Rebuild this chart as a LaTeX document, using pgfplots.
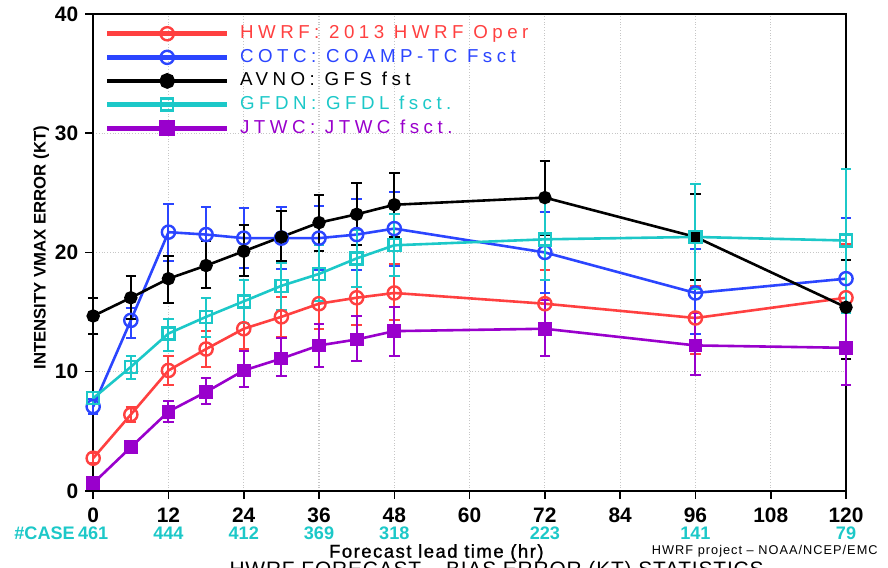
\documentclass[border=0pt]{standalone}
\usepackage{fontspec}
\setmainfont{Liberation Sans}
\newfontfamily\legfont[LetterSpace=24]{Liberation Sans}
\newfontfamily\titlefont[LetterSpace=4]{Liberation Sans}
\newfontfamily\smallfont[LetterSpace=8]{Liberation Sans}
\newfontfamily\labfont[LetterSpace=8,FakeBold=1.2]{Liberation Sans}
\usepackage{pgfplots}
\pgfplotsset{compat=1.18}
\usetikzlibrary{calc}
\definecolor{hred}{HTML}{FF4040}
\definecolor{hblue}{HTML}{2B45FF}
\definecolor{hcyan}{HTML}{1CC8C8}
\definecolor{hpurple}{HTML}{9900CC}

\begin{document}
\begin{tikzpicture}
\begin{axis}[
  scale only axis, width=376.5bp, height=238.5bp,
  xmin=0, xmax=120, ymin=0, ymax=40,
  xtick={0,12,...,120}, ytick={0,10,...,40},
  clip=false,
  axis line style={line width=1bp},
  tick pos=left, tick align=outside, major tick length=4bp,
  tick style={line width=0.8bp, black},
  grid=major, major grid style={densely dotted, gray!45, line width=0.6bp},
  /pgf/number format/assume math mode=true,
  tick label style={font=\fontsize{10.5}{12}\selectfont\bfseries},
  xticklabel style={yshift=-1bp},
  ylabel={INTENSITY VMAX ERROR (KT)},
  ylabel style={font=\fontsize{8.4}{10}\selectfont\bfseries,
    at={(axis description cs:-0.069,0.51)}, anchor=center},
  error bars/y dir=both, error bars/y explicit,
  error bars/error bar style={line width=1bp},
  error bars/error mark options={rotate=90, mark size=2.6bp, line width=1bp},
  every axis plot/.append style={line width=1.3bp},
  legend style={at={(axis description cs:0.007,0.99)}, anchor=north west,
    draw=none, fill=none, row sep=1.2bp,
    nodes={inner sep=0.8bp, text height=7bp, text depth=2bp,
      font=\legfont\fontsize{9.4}{11}\selectfont}},
  legend cell align=left,
  legend image code/.code={\draw[line width=2.4bp, mark repeat=2, mark phase=2]
    plot coordinates {(0bp,0bp) (30bp,0bp) (60bp,0bp)};
    \path (65bp,0bp);},
]
\addplot[hred, mark=o, mark size=3.3bp, mark options={line width=1.2bp}] coordinates {
  (0,2.74) += (0,0.4) -= (0,0.4)
  (6,6.4) += (0,0.6) -= (0,0.6)
  (12,10.1) += (0,1.2) -= (0,1.2)
  (18,11.9) += (0,1.5) -= (0,1.5)
  (24,13.6) += (0,1.8) -= (0,1.7)
  (30,14.6) += (0,1.7) -= (0,1.7)
  (36,15.7) += (0,2.0) -= (0,2.1)
  (42,16.2) += (0,2.3) -= (0,2.3)
  (48,16.6) += (0,2.4) -= (0,2.3)
  (72,15.7) += (0,2.8) -= (0,2.6)
  (96,14.5) += (0,2.7) -= (0,3.0)
  (120,16.2) += (0,4.5) -= (0,4.6)
};
\addlegendentry{\textcolor{hred}{HWRF: 2013 HWRF Oper}}
\addplot[hblue, mark=o, mark size=3.3bp, mark options={line width=1.2bp}] coordinates {
  (0,7.07) += (0,0.6) -= (0,0.6)
  (6,14.3) += (0,1.0) -= (0,1.5)
  (12,21.7) += (0,2.4) -= (0,2.4)
  (18,21.5) += (0,2.3) -= (0,2.3)
  (24,21.2) += (0,2.5) -= (0,2.5)
  (30,21.2) += (0,2.6) -= (0,2.6)
  (36,21.2) += (0,2.7) -= (0,2.7)
  (42,21.5) += (0,3.0) -= (0,3.0)
  (48,22.0) += (0,3.1) -= (0,3.1)
  (72,20.0) += (0,3.4) -= (0,3.4)
  (96,16.6) += (0,3.7) -= (0,3.4)
  (120,17.8) += (0,5.1) -= (0,5.3)
};
\addlegendentry{\textcolor{hblue}{COTC: COAMP-TC Fsct}}
\addplot[black, mark=*, mark size=2.7bp] coordinates {
  (0,14.67) += (0,1.5) -= (0,1.5)
  (6,16.2) += (0,1.8) -= (0,1.8)
  (12,17.8) += (0,1.9) -= (0,2.0)
  (18,18.9) += (0,2.1) -= (0,1.9)
  (24,20.1) += (0,2.2) -= (0,2.1)
  (30,21.3) += (0,2.2) -= (0,2.0)
  (36,22.5) += (0,2.3) -= (0,2.4)
  (42,23.2) += (0,2.6) -= (0,2.6)
  (48,24.0) += (0,2.7) -= (0,2.7)
  (72,24.6) += (0,3.1) -= (0,3.1)
  (96,21.3) += (0,3.6) -= (0,3.6)
  (120,15.4) += (0,4.0) -= (0,4.3)
};
\addlegendentry{AVNO: GFS fst}
\addplot[hcyan, mark=square, mark size=3bp, mark options={line width=1.2bp}] coordinates {
  (0,7.77) += (0,0.5) -= (0,0.5)
  (6,10.4) += (0,0.9) -= (0,1.0)
  (12,13.2) += (0,1.2) -= (0,1.5)
  (18,14.6) += (0,1.6) -= (0,1.7)
  (24,15.9) += (0,1.8) -= (0,1.8)
  (30,17.2) += (0,1.9) -= (0,2.0)
  (36,18.2) += (0,2.4) -= (0,2.3)
  (42,19.5) += (0,2.4) -= (0,2.4)
  (48,20.6) += (0,2.6) -= (0,2.6)
  (72,21.1) += (0,3.3) -= (0,3.4)
  (96,21.3) += (0,4.4) -= (0,4.4)
  (120,21.0) += (0,6.0) -= (0,6.1)
};
\addlegendentry{\textcolor{hcyan}{GFDN: GFDL fsct.}}
\addplot[hpurple, mark=square*, mark size=2.8bp] coordinates {
  (0,0.64) += (0,0.3) -= (0,0.3)
  (6,3.66) += (0,0.3) -= (0,0.3)
  (12,6.65) += (0,0.85) -= (0,0.85)
  (18,8.3) += (0,1.2) -= (0,1.0)
  (24,10.1) += (0,1.6) -= (0,1.4)
  (30,11.1) += (0,1.7) -= (0,1.5)
  (36,12.2) += (0,1.8) -= (0,1.8)
  (42,12.7) += (0,2.0) -= (0,1.8)
  (48,13.4) += (0,2.0) -= (0,2.1)
  (72,13.6) += (0,2.4) -= (0,2.3)
  (96,12.2) += (0,2.7) -= (0,2.5)
  (120,12.0) += (0,3.2) -= (0,3.1)
};
\addlegendentry{\textcolor{hpurple}{JTWC: JTWC fsct.}}

\coordinate (bl) at (rel axis cs:0,0);
\coordinate (tr) at (rel axis cs:1,1);
\begin{scope}[every node/.style={font=\fontsize{9.1}{11}\selectfont\bfseries, text=hcyan, inner sep=0pt}]
\node[anchor=east] at ([xshift=-9bp,yshift=-21bp]axis cs:0,0) {\#CASE};
\node at ([yshift=-21bp]axis cs:0,0) {461};
\node at ([yshift=-21bp]axis cs:12,0) {444};
\node at ([yshift=-21bp]axis cs:24,0) {412};
\node at ([yshift=-21bp]axis cs:36,0) {369};
\node at ([yshift=-21bp]axis cs:48,0) {318};
\node at ([yshift=-21bp]axis cs:72,0) {223};
\node at ([yshift=-21bp]axis cs:96,0) {141};
\node at ([yshift=-21bp]axis cs:120,0) {79};
\end{scope}
\node[font=\labfont\fontsize{9.3}{11}\selectfont, inner sep=0pt] at ([yshift=-31bp]axis cs:54.7,0) {Forecast lead time (hr)};
\node[font=\smallfont\fontsize{6.4}{8}\selectfont, anchor=east, inner sep=0pt] at ([xshift=16bp,yshift=-30bp]rel axis cs:1,0) {HWRF project \textendash\ NOAA/NCEP/EMC};
\node[font=\titlefont\fontsize{10.5}{12}\selectfont, anchor=base, inner sep=0pt] at ([yshift=-43bp]axis cs:64.3,0) {HWRF FORECAST \textendash\ BIAS ERROR (KT) STATISTICS};
\end{axis}
\pgfresetboundingbox
\path[use as bounding box] ($(bl)+(-46.6bp,-38.5bp)$) rectangle ($(tr)+(21bp,7bp)$);
\end{tikzpicture}
\end{document}
